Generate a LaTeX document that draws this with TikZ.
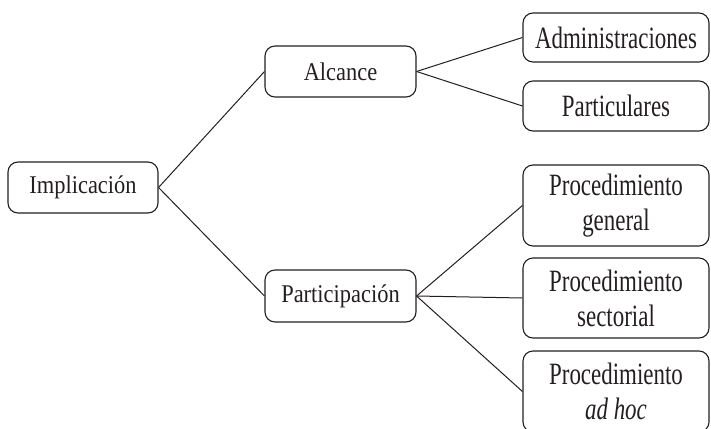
\documentclass[tikz,border=0pt]{standalone}
\usepackage{fontspec}
\setmainfont{Liberation Serif}
\newfontfamily\narrowA{Liberation Serif}[FakeStretch=0.88]
\newfontfamily\narrowB{Liberation Serif}[FakeStretch=0.74]
\definecolor{ink}{HTML}{231F20}
\begin{document}
\begin{tikzpicture}[x=1pt,y=-1pt,
  box/.style={draw=ink, line width=1.1pt, rounded corners=10pt, text=ink,
    inner sep=0pt, align=center},
  leftbox/.style={box, minimum width=150pt, minimum height=51pt,
    font=\narrowA\fontsize{25.5}{30}\selectfont},
  rightbox/.style={box, minimum width=186pt,
    font=\narrowB\fontsize{31}{35}\selectfont},
  link/.style={draw=ink, line width=1pt}]
\useasboundingbox (0,0) rectangle (711,428);
\begin{scope}
\clip (0,0) rectangle (711,428);
% first level
\node[leftbox] (impl) at (83,187.5) {Implicación};
% second level
\node[leftbox, minimum width=151pt] (alc) at (340.5,71.5) {Alcance};
\node[leftbox, minimum width=151pt, minimum height=52pt] (part) at (340.5,296) {Participación};
% third level
\node[rightbox, minimum height=49pt] (adm) at (616,37.5) {Administraciones};
\node[rightbox, minimum height=50pt] (parti) at (616,106) {Particulares};
\node[rightbox, minimum height=81pt] (gen) at (616,205.5) {Procedimiento\\general};
\node[rightbox, minimum height=80pt] (sec) at (616,298) {Procedimiento\\sectorial};
\node[rightbox, minimum height=81pt] (adhoc) at (616,391.5) {Procedimiento\\\textit{ad hoc}};
% connectors
\draw[link] (impl.east) -- (alc.west);
\draw[link] (impl.east) -- (part.west);
\draw[link] (alc.east) -- (adm.west);
\draw[link] (alc.east) -- (parti.west);
\draw[link] (part.east) -- (gen.west);
\draw[link] (part.east) -- (sec.west);
\draw[link] (part.east) -- (adhoc.west);
\end{scope}
\end{tikzpicture}
\end{document}
